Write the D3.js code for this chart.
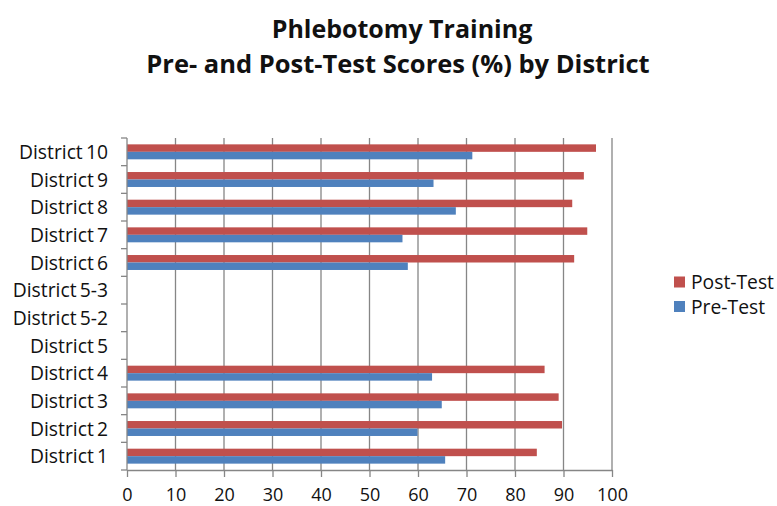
<!DOCTYPE html>
<html>
<head>
<meta charset="utf-8">
<script src="https://cdn.jsdelivr.net/npm/d3@7"></script>
<style>
  body { margin: 0; background: #fff; }
  text { font-family: "Open Sans", "Noto Sans", sans-serif; fill: #111; }
</style>
</head>
<body>
<div id="chart"></div>
<script>
// districts listed bottom to top as in the chart
const districts = ["District 1", "District 2", "District 3", "District 4", "District 5", "District 5-2",
                   "District 5-3", "District 6", "District 7", "District 8", "District 9", "District 10"];
const preTest  = [65.6, 59.9, 64.9, 62.9, null, null, null, 57.9, 56.8, 67.8, 63.2, 71.2];
const postTest = [84.5, 89.7, 89.0, 86.1, null, null, null, 92.2, 94.9, 91.8, 94.2, 96.7];
const xTicks = [0, 10, 20, 30, 40, 50, 60, 70, 80, 90, 100];

const W = 777, H = 506;
const mLeft = 127, mRight = 612, mTop = 138, mBottom = 470;
const red = "#c0504d", blue = "#4f81bd", grid = "#868686";
const fs = "19.3px";

const svg = d3.select("#chart").append("svg").attr("width", W).attr("height", H);

svg.append("text").text("Phlebotomy Training")
  .attr("x", 402).attr("y", 38).attr("text-anchor", "middle")
  .style("font-size", "25px").style("font-weight", "bold");
svg.append("text").text("Pre- and Post-Test Scores (%) by District")
  .attr("x", 398).attr("y", 73).attr("text-anchor", "middle")
  .style("font-size", "25.5px").style("font-weight", "bold");

const x = d3.scaleLinear().domain([0, 100]).range([mLeft, mRight]);
const y = d3.scaleBand().domain(districts).range([mBottom, mTop]);
const inner = d3.scaleBand().domain(["post", "pre"]).range([0, y.bandwidth()]).paddingOuter(0.85).paddingInner(0);

// vertical gridlines
svg.append("g").selectAll("line").data(xTicks.slice(1)).join("line")
  .attr("x1", d => x(d)).attr("x2", d => x(d))
  .attr("y1", mTop).attr("y2", mBottom)
  .attr("stroke", grid).attr("stroke-width", 1.3);

// bars
const rows = districts.map((d, i) => ({ d, pre: preTest[i], post: postTest[i] }));
const g = svg.append("g");
g.selectAll(".post").data(rows.filter(r => r.post != null)).join("rect")
  .attr("x", x(0)).attr("y", r => y(r.d) + inner("post"))
  .attr("width", r => x(r.post) - x(0)).attr("height", inner.bandwidth())
  .attr("fill", red);
g.selectAll(".pre").data(rows.filter(r => r.pre != null)).join("rect")
  .attr("x", x(0)).attr("y", r => y(r.d) + inner("pre"))
  .attr("width", r => x(r.pre) - x(0)).attr("height", inner.bandwidth())
  .attr("fill", blue);

// y axis line and ticks
svg.append("line").attr("x1", mLeft).attr("x2", mLeft).attr("y1", mTop).attr("y2", mBottom)
  .attr("stroke", grid).attr("stroke-width", 1.3);
const yEdges = districts.map(d => y(d)).concat([mBottom]);
svg.append("g").selectAll("line").data(yEdges).join("line")
  .attr("x1", mLeft - 6).attr("x2", mLeft).attr("y1", d => d).attr("y2", d => d)
  .attr("stroke", grid).attr("stroke-width", 1.3);
svg.append("g").selectAll("text").data(districts).join("text")
  .text(d => d.replace("District ", "District\u2009"))
  .attr("x", 108).attr("y", d => y(d) + y.bandwidth() / 2 + 7)
  .attr("text-anchor", "end").style("font-size", fs);

// x axis
const xAxis = svg.append("g").attr("transform", `translate(0,${mBottom})`)
  .call(d3.axisBottom(x).tickValues(xTicks).tickSize(7).tickPadding(11).tickSizeOuter(0));
xAxis.select(".domain").attr("stroke", grid).attr("stroke-width", 1.3);
xAxis.selectAll(".tick line").attr("stroke", grid).attr("stroke-width", 1.3);
xAxis.selectAll(".tick text").style("font-size", "18px").style("font-family", "'Open Sans', sans-serif").attr("fill", "#111");

// legend
const legend = [{ k: "Post-Test", c: red, yy: 282 }, { k: "Pre-Test", c: blue, yy: 306.5 }];
const lg = svg.append("g").selectAll("g").data(legend).join("g");
lg.append("rect").attr("x", 674).attr("y", d => d.yy - 5.5).attr("width", 11).attr("height", 11).attr("fill", d => d.c);
lg.append("text").text(d => d.k).attr("x", 691).attr("y", d => d.yy + 7).style("font-size", fs);
</script>
</body>
</html>
